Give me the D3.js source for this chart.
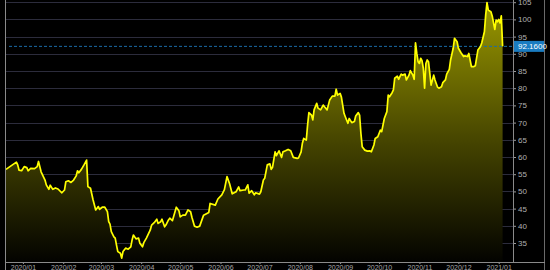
<!DOCTYPE html>
<html>
<head>
<meta charset="utf-8">
<script src="https://cdn.jsdelivr.net/npm/d3@7"></script>
<style>
  html, body { margin: 0; padding: 0; background: #000; }
  svg { display: block; font-family: "Liberation Sans", Arial, sans-serif; }
</style>
</head>
<body>
<svg class="price-chart" width="550" height="270"></svg>
<script>
const dates = [
  "2019-12-19","2019-12-22","2019-12-27","2019-12-28","2019-12-29","2019-12-31",
  "2020-01-02","2020-01-04","2020-01-05","2020-01-07","2020-01-10","2020-01-12","2020-01-13",
  "2020-01-15","2020-01-17","2020-01-18","2020-01-19","2020-01-21","2020-01-22","2020-01-24",
  "2020-01-26","2020-01-28","2020-01-31","2020-02-02","2020-02-03","2020-02-05","2020-02-07",
  "2020-02-09","2020-02-11","2020-02-12","2020-02-13","2020-02-15","2020-02-17","2020-02-19",
  "2020-02-20","2020-02-22","2020-02-24","2020-02-26","2020-02-28","2020-02-29","2020-03-02",
  "2020-03-04","2020-03-06","2020-03-07","2020-03-08","2020-03-09","2020-03-11","2020-03-12",
  "2020-03-13","2020-03-14","2020-03-16","2020-03-17","2020-03-18","2020-03-20","2020-03-22",
  "2020-03-24","2020-03-25","2020-03-26","2020-03-28","2020-03-30","2020-03-31","2020-04-02",
  "2020-04-03","2020-04-05","2020-04-08","2020-04-09","2020-04-11","2020-04-13","2020-04-14",
  "2020-04-16","2020-04-17","2020-04-19","2020-04-20","2020-04-22","2020-04-23","2020-04-25",
  "2020-04-26","2020-04-28","2020-04-30","2020-05-01","2020-05-03","2020-05-05","2020-05-07",
  "2020-05-09","2020-05-10","2020-05-12","2020-05-14","2020-05-16","2020-05-19","2020-05-23",
  "2020-05-24","2020-05-28","2020-05-30","2020-06-02","2020-06-04","2020-06-06","2020-06-08",
  "2020-06-10","2020-06-13","2020-06-15","2020-06-16","2020-06-19","2020-06-20","2020-06-22",
  "2020-06-23","2020-06-25","2020-06-27","2020-06-28","2020-07-01","2020-07-02","2020-07-04",
  "2020-07-05","2020-07-07","2020-07-09","2020-07-10","2020-07-11","2020-07-13","2020-07-14",
  "2020-07-16","2020-07-18","2020-07-19","2020-07-21","2020-07-23","2020-07-25","2020-07-27",
  "2020-07-30","2020-07-31","2020-08-02","2020-08-03","2020-08-04","2020-08-06","2020-08-07",
  "2020-08-08","2020-08-10","2020-08-11","2020-08-12","2020-08-14","2020-08-15","2020-08-17",
  "2020-08-19","2020-08-20","2020-08-22","2020-08-24","2020-08-26","2020-08-28","2020-08-29",
  "2020-08-30","2020-09-01","2020-09-02","2020-09-04","2020-09-05","2020-09-07","2020-09-08",
  "2020-09-10","2020-09-12","2020-09-13","2020-09-15","2020-09-16","2020-09-17","2020-09-18",
  "2020-09-20","2020-09-22","2020-09-24","2020-09-25","2020-09-27","2020-09-28","2020-09-30",
  "2020-10-02","2020-10-03","2020-10-05","2020-10-07","2020-10-08","2020-10-09","2020-10-11",
  "2020-10-12","2020-10-13","2020-10-15","2020-10-16","2020-10-18","2020-10-19","2020-10-21",
  "2020-10-22","2020-10-24","2020-10-25","2020-10-27","2020-10-28","2020-10-29","2020-10-30",
  "2020-10-31","2020-11-01","2020-11-02","2020-11-03","2020-11-04","2020-11-05","2020-11-06",
  "2020-11-07","2020-11-08","2020-11-09","2020-11-10","2020-11-12","2020-11-13","2020-11-15",
  "2020-11-16","2020-11-18","2020-11-19","2020-11-21","2020-11-22","2020-11-24","2020-11-25",
  "2020-11-27","2020-11-28","2020-11-30","2020-12-01","2020-12-03","2020-12-05","2020-12-06",
  "2020-12-08","2020-12-09","2020-12-11","2020-12-13","2020-12-14","2020-12-16","2020-12-18",
  "2020-12-19","2020-12-21","2020-12-22","2020-12-23","2020-12-24","2020-12-26","2020-12-27",
  "2020-12-29","2020-12-30","2020-12-31","2021-01-01","2021-01-02","2021-01-03","2021-01-04"
];

const prices = [
  56.4, 57.2, 58.5, 57.7, 56.2, 56.0,
  57.2, 56.9, 56.0, 56.7, 56.6, 57.2, 58.7,
  55.7, 54.1, 53.3, 51.9, 50.6, 51.8, 50.6,
  51.0, 50.7, 49.6, 50.4, 52.8, 53.1, 52.6,
  53.3, 54.5, 56.0, 55.4, 56.4, 57.7, 59.1,
  51.4, 50.9, 47.5, 44.6, 45.6, 44.8, 45.4,
  45.4, 44.1, 41.2, 40.5, 38.3, 36.8, 36.4,
  34.4, 32.5, 32.0, 30.6, 32.5, 33.5, 33.2,
  33.9, 35.9, 37.3, 36.2, 36.4, 34.9, 33.9,
  35.1, 36.4, 38.8, 40.2, 40.9, 41.9, 40.7,
  41.2, 41.9, 39.7, 40.2, 41.7, 42.2, 41.5,
  42.8, 45.4, 44.4, 42.6, 43.1, 43.1, 44.6,
  44.1, 42.5, 39.9, 39.6, 39.9, 43.1, 43.9,
  46.5, 46.0, 47.8, 49.0, 50.5, 54.3, 52.2,
  49.3, 49.9, 51.3, 50.2, 50.4, 50.4, 51.9,
  49.5, 50.2, 49.0, 49.6, 49.2, 49.9, 53.3,
  53.8, 57.7, 58.0, 56.4, 57.0, 61.5, 60.4,
  61.8, 59.9, 61.5, 61.8, 62.2, 61.8, 59.9,
  59.6, 59.7, 61.5, 64.0, 65.4, 64.9, 69.3,
  72.9, 72.2, 70.8, 73.7, 75.6, 74.2, 73.7,
  75.1, 74.6, 73.7, 76.6, 77.7, 77.7, 79.7,
  78.0, 78.5, 77.4, 72.7, 71.7, 69.8, 71.2,
  70.0, 70.3, 71.9, 72.9, 72.2, 66.9, 63.0,
  62.0, 61.7, 61.8, 61.5, 63.5, 65.4, 65.9,
  67.8, 67.4, 71.2, 73.2, 78.0, 77.5, 78.7,
  79.5, 82.9, 83.5, 82.6, 84.1, 83.8, 84.1,
  82.4, 83.8, 85.1, 83.8, 82.6, 93.2, 90.1,
  87.7, 87.2, 88.7, 88.0, 85.8, 80.0, 87.2,
  88.2, 87.7, 84.3, 80.9, 83.8, 82.4, 80.3,
  80.0, 80.4, 81.6, 82.4, 84.1, 85.5, 88.2,
  91.6, 94.5, 93.5, 91.6, 90.3, 89.2, 89.4,
  89.2, 90.1, 86.3, 86.3, 86.5, 91.1, 92.1,
  93.2, 96.4, 101.3, 104.9, 102.7, 102.2, 101.0,
  97.1, 99.8, 99.3, 100.0, 99.0, 101.0, 92.16
];

const yTicks = [35, 40, 45, 50, 55, 60, 65, 70, 75, 80, 85, 90, 95, 100, 105];
const lastPrice = 92.16;
const xStart = "2019-12-19";
const xEnd = "2021-01-12";

function drawPriceChart() {
    const svg = d3.select("svg.price-chart");
    const margin = {top: 0, right: 37, bottom: 8, left: 6};
    const width = +svg.attr("width") - margin.left - margin.right;
    const height = +svg.attr("height") - margin.top - margin.bottom;
    const parse = d3.timeParse("%Y-%m-%d");

    const data = dates.map((d, i) => ({date: parse(d), value: prices[i]}));

    const x = d3.scaleTime()
        .domain([parse(xStart), parse(xEnd)])
        .range([0, width]);
    const y = d3.scaleLinear()
        .domain([35, 105])
        .range([243, 2.2]);

    svg.append("rect")
        .attr("width", 550).attr("height", 270)
        .attr("fill", "#000");

    const defs = svg.append("defs");
    const grad = defs.append("linearGradient")
        .attr("id", "fillGrad")
        .attr("gradientUnits", "userSpaceOnUse")
        .attr("x1", 0).attr("x2", 0)
        .attr("y1", 0).attr("y2", height);
    grad.append("stop").attr("offset", "0%").attr("stop-color", "#9c9a00");
    grad.append("stop").attr("offset", "55%").attr("stop-color", "#444300");
    grad.append("stop").attr("offset", "100%").attr("stop-color", "#030300");

    const g = svg.append("g")
        .attr("transform", `translate(${margin.left}, ${margin.top})`);

    // grid
    g.append("g")
        .attr("class", "grid")
      .selectAll("line")
      .data(yTicks)
      .enter().append("line")
        .attr("x1", 0).attr("x2", width)
        .attr("y1", d => Math.round(y(d)) + 0.5)
        .attr("y2", d => Math.round(y(d)) + 0.5)
        .attr("stroke", "#2c2c3c")
        .attr("stroke-width", 1);

    const area = d3.area()
        .x(d => x(d.date))
        .y0(height)
        .y1(d => y(d.value));
    const line = d3.line()
        .x(d => x(d.date))
        .y(d => y(d.value));

    g.append("path")
        .datum(data)
        .attr("fill", "url(#fillGrad)")
        .attr("d", area);

    // last price dashed line
    g.append("line")
        .attr("x1", 3).attr("x2", width)
        .attr("y1", y(lastPrice)).attr("y2", y(lastPrice))
        .attr("stroke", "#1b6ca8")
        .attr("stroke-width", 1)
        .attr("stroke-dasharray", "3,2");

    g.append("path")
        .datum(data)
        .attr("fill", "none")
        .attr("stroke", "#ffff00")
        .attr("stroke-width", 1.7)
        .attr("stroke-linejoin", "round")
        .attr("d", line);

    // x axis
    const xAxis = g.append("g")
        .attr("class", "axis axis--x")
        .attr("transform", `translate(0, ${height})`)
        .call(d3.axisBottom(x)
                .ticks(d3.timeMonth.every(1))
                .tickSize(2)
                .tickPadding(1)
                .tickFormat(d3.timeFormat("%Y/%m")));
    xAxis.select(".domain").remove();
    xAxis.selectAll("line").attr("stroke", "#9a9a9a");
    xAxis.selectAll("text")
        .attr("fill", "#a8a8a8")
        .attr("font-size", 7);

    // y axis on the right
    const yAxis = g.append("g")
        .attr("class", "axis axis--y")
        .attr("transform", `translate(${width}, 0)`)
        .call(d3.axisRight(y)
                .tickValues(yTicks)
                .tickSize(3)
                .tickPadding(2)
                .tickFormat(d3.format("")));
    yAxis.select(".domain").remove();
    yAxis.selectAll("line").attr("stroke", "#9a9a9a");
    yAxis.selectAll("text")
        .attr("fill", "#b0b0b0")
        .attr("font-size", 8);

    // frame lines
    svg.append("line")
        .attr("x1", margin.left - 0.5).attr("x2", margin.left - 0.5)
        .attr("y1", 0).attr("y2", 270)
        .attr("stroke", "#8a8a8a");
    svg.append("line")
        .attr("x1", margin.left + width + 0.5).attr("x2", margin.left + width + 0.5)
        .attr("y1", 0).attr("y2", height)
        .attr("stroke", "#8a8a8a");
    svg.append("line")
        .attr("x1", 544.5).attr("x2", 544.5)
        .attr("y1", 0).attr("y2", 270)
        .attr("stroke", "#6a6a6a");
    svg.append("line")
        .attr("x1", margin.left - 1).attr("x2", 545)
        .attr("y1", height + 0.5).attr("y2", height + 0.5)
        .attr("stroke", "#8a8a8a");

    // last price tag
    const tag = svg.append("g")
        .attr("transform", `translate(${margin.left + width + 1}, ${y(lastPrice)})`);
    tag.append("rect")
        .attr("x", 0).attr("y", -5.5)
        .attr("width", 30).attr("height", 11)
        .attr("fill", "#1a7cc1");
    tag.append("text")
        .attr("x", 4).attr("y", 0)
        .attr("dy", "0.35em")
        .attr("fill", "#ffffff")
        .attr("font-size", 8)
        .text(lastPrice.toFixed(4));
}

drawPriceChart();
</script>
</body>
</html>
